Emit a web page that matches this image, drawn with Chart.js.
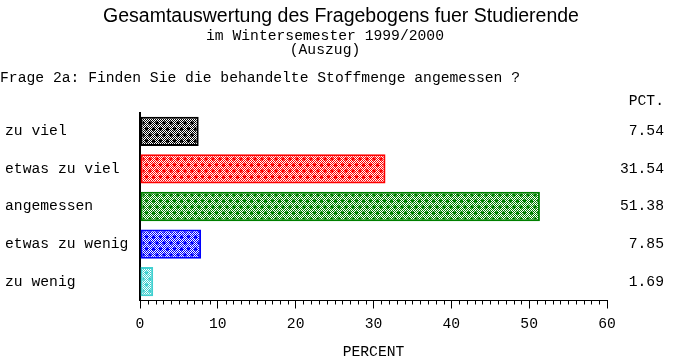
<!DOCTYPE html>
<html>
<head>
<meta charset="utf-8">
<script src="https://cdn.jsdelivr.net/npm/chart.js@4.4.1/dist/chart.umd.min.js"></script>
<style>
  html, body { margin: 0; padding: 0; background: #fff; }
  #wrap { width: 685px; height: 364px; }
</style>
</head>
<body>
<div id="wrap"><canvas id="chart" width="685" height="364"></canvas></div>
<script>
// daten
const categories = ['zu viel', 'etwas zu viel', 'angemessen', 'etwas zu wenig', 'zu wenig'];
const percentValues = [7.54, 31.54, 51.38, 7.85, 1.69];
const xTicks = [0, 10, 20, 30, 40, 50, 60];
const barColors = ['#000000', '#ff0000', '#008000', '#0000ff', '#40d0d0'];

const MONO = '"Liberation Mono", "DejaVu Sans Mono", monospace';

// Muster: feines Schachbrett mit Punkten (versetzt)
function makePattern(color) {
    const w = 14, h = 12;
    const c = document.createElement('canvas');
    c.width = w; c.height = h;
    const g = c.getContext('2d');
    g.fillStyle = '#fff';
    g.fillRect(0, 0, w, h);
    g.fillStyle = color;
    for (let y = 0; y < h; y++) {
        for (let x = 0; x < w; x++) {
            if ((x + y) % 2 === 0) g.fillRect(x, y, 1, 1);
        }
    }
    [[3, 3], [10, 3], [6.5, 9], [13.5, 9], [-0.5, 9]].forEach(p => {
        g.beginPath(); g.arc(p[0], p[1], 1.7, 0, Math.PI * 2); g.fill();
    });
    return g.createPattern(c, 'repeat');
}

// Texte, Kleinstriche und PCT-Spalte
const textPlugin = {
    id: 'texts',
    afterDraw(chart) {
        const ctx = chart.ctx;
        const xs = chart.scales.x, ys = chart.scales.y;
        ctx.save();
        ctx.fillStyle = '#000';
        ctx.textBaseline = 'middle';

        ctx.textAlign = 'center';
        ctx.font = '19.5px "Liberation Sans", Arial, sans-serif';
        ctx.fillText('Gesamtauswertung des Fragebogens fuer Studierende', 341, 17);
        ctx.font = '14.7px ' + MONO;
        ctx.fillText('im Wintersemester 1999/2000', 325, 36);
        ctx.fillText('(Auszug)', 325, 50);

        ctx.textAlign = 'left';
        ctx.fillText('Frage 2a: Finden Sie die behandelte Stoffmenge angemessen ?', 0, 78);

        ctx.textAlign = 'right';
        ctx.fillText('PCT.', 664, 101);
        percentValues.forEach((v, i) => {
            ctx.fillText(v.toFixed(2), 664, ys.getPixelForValue(i));
        });

        ctx.textAlign = 'center';
        ctx.fillText('PERCENT', (xs.left + xs.right) / 2, 352);

        // kleine Striche
        ctx.strokeStyle = '#000';
        ctx.lineWidth = 1;
        for (let v = 0; v <= 60; v++) {
            if (v % 10 === 0) continue;
            const px = Math.round(xs.getPixelForValue(v)) + 0.5;
            ctx.beginPath();
            ctx.moveTo(px, xs.top);
            ctx.lineTo(px, xs.top + 4);
            ctx.stroke();
        }
        ctx.restore();
    }
};

const ctx = document.getElementById('chart').getContext('2d');
new Chart(ctx, {
    type: 'bar',
    data: {
        labels: categories,
        datasets: [{
            data: percentValues,
            backgroundColor: barColors.map(makePattern),
            borderColor: barColors,
            borderWidth: 2,
            borderSkipped: false,
            barPercentage: 0.78,
            categoryPercentage: 1.0
        }]
    },
    options: {
        indexAxis: 'y',
        responsive: false,
        animation: false,
        layout: { padding: { left: 5, top: 112.5, right: 78, bottom: 0 } },
        plugins: {
            legend: { display: false },
            tooltip: { enabled: false }
        },
        scales: {
            x: {
                min: 0,
                max: 60,
                afterBuildTicks: (scale) => { scale.ticks = xTicks.map(v => ({ value: v })); },
                afterFit: (scale) => { scale.height = 63.5; },
                grid: { drawOnChartArea: false, tickLength: 8, color: '#000' },
                border: { color: '#000', width: 1 },
                ticks: {
                    color: '#000',
                    padding: 7,
                    maxRotation: 0,
                    font: { family: MONO, size: 14.7 }
                }
            },
            y: {
                afterFit: (scale) => { scale.width = 135; },
                grid: { display: false },
                border: { color: '#000', width: 2 },
                ticks: {
                    color: '#000',
                    crossAlign: 'far',
                    font: { family: MONO, size: 14.7 }
                }
            }
        }
    },
    plugins: [textPlugin]
});
</script>
</body>
</html>
